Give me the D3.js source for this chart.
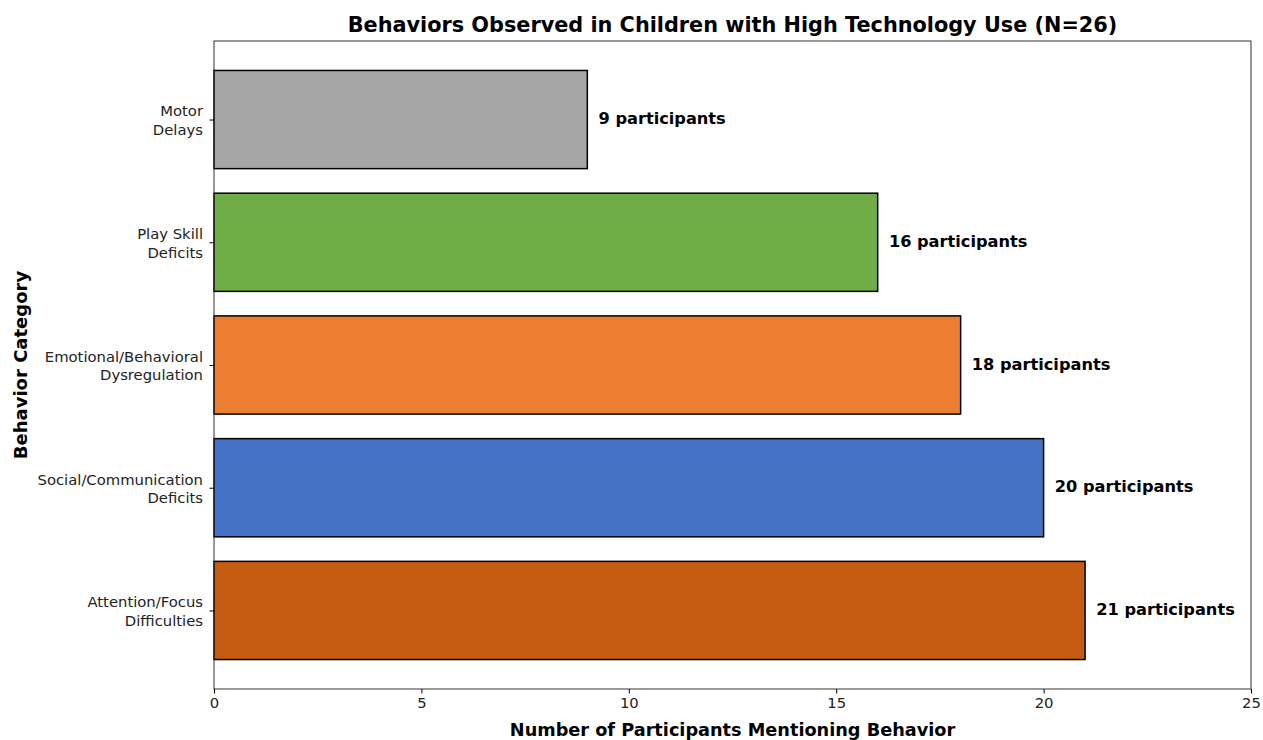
<!DOCTYPE html>
<html>
<head>
<meta charset="utf-8">
<script src="https://cdn.jsdelivr.net/npm/d3@7"></script>
<style>
  body { margin: 0; background: #fff; }
  svg, svg text { font-family: "DejaVu Sans", sans-serif; }
</style>
</head>
<body>
<svg id="chart" width="1263" height="740"></svg>
<script>
// categories listed bottom to top, as in the picture
var categories = [
    ['Attention/Focus', 'Difficulties'],
    ['Social/Communication', 'Deficits'],
    ['Emotional/Behavioral', 'Dysregulation'],
    ['Play Skill', 'Deficits'],
    ['Motor', 'Delays']
];
var counts = [21, 20, 18, 16, 9];
var barColors = ['#c55a11', '#4472c4', '#ed7d31', '#70ad47', '#a5a5a5'];
var xTicks = [0, 5, 10, 15, 20, 25];

var MARGIN = { LEFT: 214, RIGHT: 12, TOP: 41, BOTTOM: 51 };
var width = 1263 - MARGIN.LEFT - MARGIN.RIGHT,
    height = 740 - MARGIN.TOP - MARGIN.BOTTOM;

var svg = d3.select('#chart');
var g = svg.append('g')
    .attr('transform', 'translate(' + MARGIN.LEFT + ',' + MARGIN.TOP + ')');

var x = d3.scaleLinear().domain([0, 25]).range([0, width]);
// matplotlib-like barh: bars of height 0.8 centred on integers, 5% margins
var y = d3.scaleLinear().domain([-0.64, 4.64]).range([height, 0]);
var bandPx = y(0) - y(1);

var bars = g.selectAll('rect.bar').data(counts);
bars.enter()
    .append('rect')
    .attr('class', 'bar')
    .attr('x', x(0))
    .attr('y', function (d, i) { return y(i + 0.4); })
    .attr('width', function (d) { return x(d) - x(0); })
    .attr('height', bandPx * 0.8)
    .style('fill', function (d, i) { return barColors[i]; })
    .style('stroke', '#000')
    .style('stroke-width', 1.5);

g.selectAll('text.value').data(counts)
    .enter()
    .append('text')
    .attr('class', 'value')
    .attr('x', function (d) { return x(d + 0.27); })
    .attr('y', function (d, i) { return y(i) - 1; })
    .attr('dy', '0.35em')
    .style('font-size', '16.2px')
    .style('font-weight', 'bold')
    .text(function (d) { return d + ' participants'; });

// frame
g.append('rect')
    .attr('width', width)
    .attr('height', height)
    .style('fill', 'none')
    .style('stroke', '#333')
    .style('stroke-width', 1);

var xAxis = g.append('g')
    .attr('transform', 'translate(0,' + height + ')')
    .call(d3.axisBottom(x).tickValues(xTicks).tickSize(4.5).tickPadding(4))
    .attr('font-family', null);
xAxis.select('.domain').remove();
xAxis.selectAll('text').style('font-size', '14.8px').style('fill', '#222');

var yAxis = g.append('g')
    .call(d3.axisLeft(y).tickValues(d3.range(categories.length)).tickSize(4.5).tickFormat(''))
    .attr('font-family', null);
yAxis.select('.domain').remove();
yAxis.selectAll('.tick').each(function (d) {
    var t = d3.select(this).append('text')
        .attr('x', -11)
        .attr('text-anchor', 'end')
        .style('font-size', '14.8px')
        .style('fill', '#222');
    categories[d].forEach(function (line, k) {
        t.append('tspan')
            .attr('x', -11)
            .attr('y', (k - 0.5) * 18.5 + 0.5)
            .attr('dy', '0.35em')
            .text(line);
    });
});

svg.append('text')
    .attr('x', MARGIN.LEFT + width / 2)
    .attr('y', 32)
    .attr('text-anchor', 'middle')
    .style('font-size', '20.8px')
    .style('font-weight', 'bold')
    .text('Behaviors Observed in Children with High Technology Use (N=26)');

svg.append('text')
    .attr('x', MARGIN.LEFT + width / 2)
    .attr('y', 736)
    .attr('text-anchor', 'middle')
    .style('font-size', '17.7px')
    .style('font-weight', 'bold')
    .text('Number of Participants Mentioning Behavior');

svg.append('text')
    .attr('transform', 'translate(27,' + (MARGIN.TOP + height / 2) + ') rotate(-90)')
    .attr('text-anchor', 'middle')
    .style('font-size', '18px')
    .style('font-weight', 'bold')
    .text('Behavior Category');
</script>
</body>
</html>
